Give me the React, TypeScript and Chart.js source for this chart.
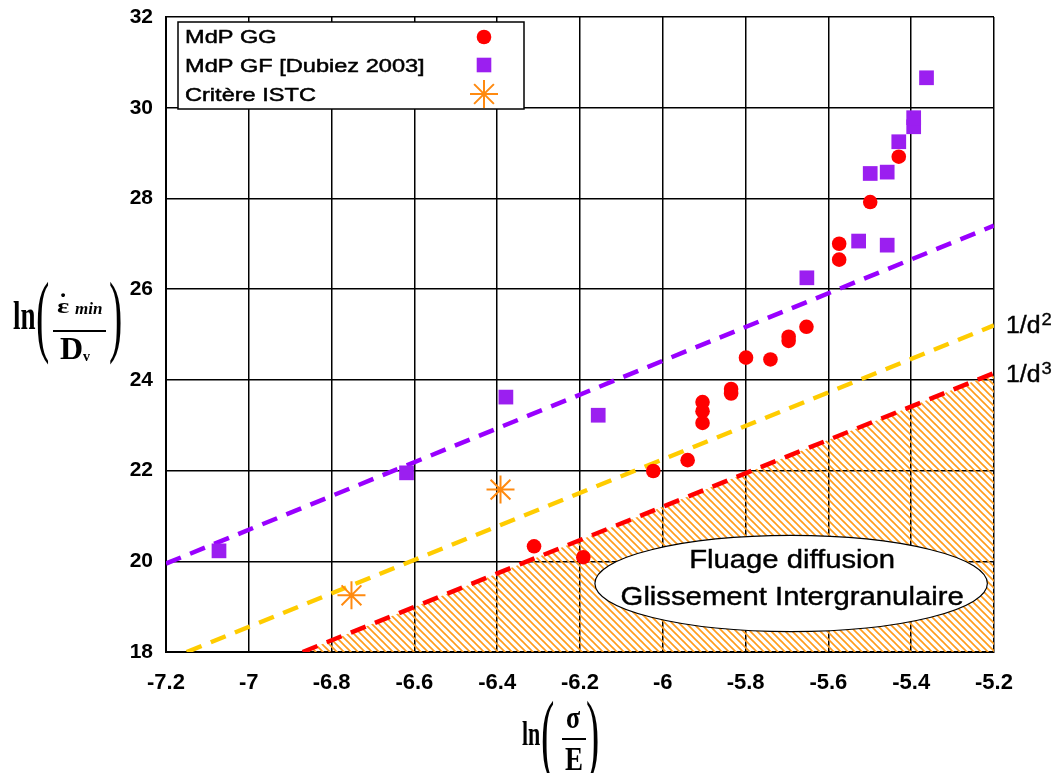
import React, { useEffect, useRef } from 'react';
import { Chart, registerables } from 'chart.js';

Chart.register(...registerables);

// ---- Data ----
const ggX = [-6.311, -6.192, -6.023, -5.940, -5.904, -5.904, -5.904, -5.835, -5.835, -5.799, -5.740, -5.696, -5.696, -5.653, -5.574, -5.574, -5.499, -5.430];
const ggY = [20.33, 20.09, 21.99, 22.23, 23.05, 23.31, 23.51, 23.70, 23.80, 24.49, 24.45, 24.86, 24.95, 25.17, 26.65, 27.00, 27.92, 28.92];

const gfX = [-7.072, -6.619, -6.379, -6.156, -5.652, -5.527, -5.458, -5.499, -5.458, -5.430, -5.394, -5.394, -5.363];
const gfY = [20.23, 21.95, 23.62, 23.22, 26.25, 27.06, 26.97, 28.55, 28.58, 29.25, 29.58, 29.78, 30.66];

const istcX = [-6.392, -6.752];
const istcY = [21.58, 19.25];

const purpleLineX = [-7.2, -5.2];
const purpleLineY = [19.95, 27.4];
const yellowLineX = [-7.15, -5.2];
const yellowLineY = [18, 25.2];
const redLineX = [-6.87, -5.2];
const redLineY = [18, 24.15];

const xTickValues = [-7.2, -7, -6.8, -6.6, -6.4, -6.2, -6, -5.8, -5.6, -5.4, -5.2];
const xTickLabels = ['-7.2', '-7', '-6.8', '-6.6', '-6.4', '-6.2', '-6', '-5.8', '-5.6', '-5.4', '-5.2'];
const yTickValues = [18, 20, 22, 24, 26, 28, 30, 32];
const yTickLabels = ['18', '20', '22', '24', '26', '28', '30', '32'];

const legendLabels = ['MdP GG', 'MdP GF [Dubiez 2003]', 'Critère ISTC'];
const regionLabels = ['Fluage diffusion', 'Glissement Intergranulaire'];
const lineLabels = ['1/d', '2', '3'];

// ---- Styles ----
const RED = '#ff0000';
const PURPLE_PT = '#9b1ff0';
const PURPLE_LINE = '#9900ff';
const YELLOW = '#ffcc00';
const ORANGE = '#ff8a10';
const HATCH = '#ff9d1e';

const zip = (xs: number[], ys: number[]) => xs.map((x, i) => ({ x, y: ys[i] }));

function txt(ctx: CanvasRenderingContext2D, s: string, x: number, y: number, font: string, align: CanvasTextAlign = 'left', sx = 1, sy = 1, heavy = 0) {
  ctx.save();
  ctx.translate(x, y);
  ctx.scale(sx, sy);
  ctx.font = font;
  ctx.textAlign = align;
  ctx.textBaseline = 'alphabetic';
  ctx.fillStyle = '#000';
  ctx.fillText(s, 0, 0);
  if (heavy > 0) {
    ctx.strokeStyle = '#000';
    ctx.lineWidth = heavy;
    ctx.strokeText(s, 0, 0);
  }
  ctx.restore();
}

function makeHatch(): CanvasPattern | string {
  const s = 7;
  const c = document.createElement('canvas');
  c.width = s;
  c.height = s;
  const g = c.getContext('2d');
  if (!g) return HATCH;
  g.strokeStyle = HATCH;
  g.lineWidth = 1.7;
  for (const k of [-s, 0, s]) {
    g.beginPath();
    g.moveTo(-1, k - 1);
    g.lineTo(s + 1, k + s + 1);
    g.stroke();
  }
  return g.createPattern(c, 'repeat') || HATCH;
}

const overlayPlugin = {
  id: 'overlay',
  afterDatasetsDraw(chart: any) {
    const { ctx, scales } = chart;
    const xs = scales.x, ys = scales.y;
    // ellipse annotation
    const ecx = -5.69, ecy = 19.51, erx = 0.474, ery = 1.06;
    const cx = xs.getPixelForValue(ecx);
    const cy = ys.getPixelForValue(ecy);
    const rx = xs.getPixelForValue(ecx + erx) - cx;
    const ry = cy - ys.getPixelForValue(ecy + ery);
    ctx.save();
    ctx.beginPath();
    ctx.ellipse(cx, cy, rx, ry, 0, 0, Math.PI * 2);
    ctx.fillStyle = '#ffffff';
    ctx.fill();
    ctx.lineWidth = 1.2;
    ctx.strokeStyle = '#000';
    ctx.stroke();
    ctx.restore();
    txt(ctx, regionLabels[0], cx + 1, cy - 16, '25px "Liberation Sans"', 'center', 1.17, 1, 0.4);
    txt(ctx, regionLabels[1], cx + 1, cy + 21, '25px "Liberation Sans"', 'center', 1.17, 1, 0.4);

    // 1/d labels at the line ends
    const area = chart.chartArea;
    const yy = ys.getPixelForValue(yellowLineY[1]) + 8;
    const yr = ys.getPixelForValue(redLineY[1]) + 9;
    const lx = area.right + 12;
    ctx.save();
    ctx.font = '23px "Liberation Sans"';
    const w = ctx.measureText(lineLabels[0]).width * 1.08;
    ctx.restore();
    txt(ctx, lineLabels[0], lx, yy, '23px "Liberation Sans"', 'left', 1.08, 1, 0.4);
    txt(ctx, lineLabels[1], lx + w + 1, yy - 8, '16px "Liberation Sans"', 'left', 1.15, 1, 0.3);
    txt(ctx, lineLabels[0], lx, yr, '23px "Liberation Sans"', 'left', 1.08, 1, 0.4);
    txt(ctx, lineLabels[2], lx + w + 1, yr - 8, '16px "Liberation Sans"', 'left', 1.15, 1, 0.3);
  },
  afterDraw(chart: any) {
    const { ctx } = chart;
    // ---- Legend ----
    ctx.save();
    ctx.fillStyle = '#fff';
    ctx.fillRect(178, 22, 346, 87);
    ctx.lineWidth = 1.5;
    ctx.strokeStyle = '#000';
    ctx.strokeRect(178, 22, 346, 87);
    ctx.restore();
    const lf = '19px "Liberation Sans"';
    txt(ctx, legendLabels[0], 185, 43, lf, 'left', 1.24, 1, 0.5);
    txt(ctx, legendLabels[1], 185, 72, lf, 'left', 1.24, 1, 0.5);
    txt(ctx, legendLabels[2], 185, 101, lf, 'left', 1.24, 1, 0.5);
    const mx = 484;
    ctx.save();
    ctx.fillStyle = RED;
    ctx.beginPath();
    ctx.arc(mx, 37, 7.3, 0, Math.PI * 2);
    ctx.fill();
    ctx.fillStyle = PURPLE_PT;
    ctx.fillRect(mx - 7.3, 65 - 7.3, 14.6, 14.6);
    ctx.strokeStyle = ORANGE;
    ctx.lineWidth = 2;
    ctx.beginPath();
    const r = 14;
    for (let k = 0; k < 4; k++) {
      const a = (k * Math.PI) / 4;
      ctx.moveTo(mx - Math.cos(a) * r, 94 - Math.sin(a) * r);
      ctx.lineTo(mx + Math.cos(a) * r, 94 + Math.sin(a) * r);
    }
    ctx.stroke();
    ctx.restore();

    // ---- Y axis title: ln( ε̇min / Dv ) ----
    txt(ctx, 'ln', 13, 329, 'bold 27px "Liberation Serif"', 'left', 1, 1.5);
    txt(ctx, '(', 36, 345, '40px "Liberation Serif"', 'left', 1, 2.3);
    txt(ctx, 'ε', 63, 313, 'bold 22px "Liberation Serif"', 'center', 1.3, 1);
    txt(ctx, '˙', 63, 311, 'bold 26px "Liberation Serif"', 'center', 1, 1);
    txt(ctx, 'min', 75, 314, 'italic bold 17px "Liberation Serif"', 'left', 1, 1);
    ctx.save();
    ctx.fillStyle = '#000';
    ctx.fillRect(53, 330, 53, 2);
    ctx.restore();
    txt(ctx, 'D', 60, 359, 'bold 32px "Liberation Serif"', 'left', 1, 1);
    txt(ctx, 'v', 83, 361, 'bold 14px "Liberation Serif"', 'left', 1, 1);
    txt(ctx, ')', 109, 345, '40px "Liberation Serif"', 'left', 1, 2.3);

    // ---- X axis title: ln( σ / E ) ----
    txt(ctx, 'ln', 522, 745, 'bold 22px "Liberation Serif"', 'left', 1, 1.5);
    txt(ctx, '(', 541, 764, '40px "Liberation Serif"', 'left', 1, 2.3);
    txt(ctx, 'σ', 573, 728, 'bold 26px "Liberation Serif"', 'center', 1, 1.2);
    ctx.save();
    ctx.fillStyle = '#000';
    ctx.fillRect(562, 738, 24, 2);
    ctx.restore();
    txt(ctx, 'E', 574, 770, 'bold 27px "Liberation Serif"', 'center', 1, 1.22);
    txt(ctx, ')', 586, 764, '40px "Liberation Serif"', 'left', 1, 2.3);
  },
};

export default function App() {
  const canvasRef = useRef<HTMLCanvasElement | null>(null);

  useEffect(() => {
    document.body.style.margin = '0';
    document.body.style.overflow = 'hidden';
    const canvas = canvasRef.current;
    if (!canvas) return;
    const hatch = makeHatch();

    const lineDs = (xs: number[], ys: number[], color: string, extra: any = {}) => ({
      type: 'line',
      data: zip(xs, ys),
      showLine: true,
      borderColor: color,
      borderWidth: 4.5,
      borderDash: [16, 10],
      borderCapStyle: 'butt',
      pointRadius: 0,
      fill: false,
      tension: 0,
      ...extra,
    });

    const chart = new Chart(canvas, {
      type: 'scatter',
      data: {
        datasets: [
          {
            label: legendLabels[0],
            data: zip(ggX, ggY),
            pointStyle: 'circle',
            pointRadius: 7.3,
            backgroundColor: RED,
            borderColor: RED,
            borderWidth: 0,
          },
          {
            label: legendLabels[1],
            data: zip(gfX, gfY),
            pointStyle: 'rect',
            pointRadius: 10.4,
            backgroundColor: PURPLE_PT,
            borderColor: PURPLE_PT,
            borderWidth: 0,
          },
          {
            label: legendLabels[2],
            data: zip(istcX, istcY),
            pointStyle: 'star',
            pointRadius: 14,
            borderColor: ORANGE,
            backgroundColor: ORANGE,
            borderWidth: 2,
          },
          lineDs(purpleLineX, purpleLineY, PURPLE_LINE),
          lineDs(yellowLineX, yellowLineY, YELLOW),
          lineDs(redLineX, redLineY, RED, { fill: 'start', backgroundColor: hatch }),
        ] as any,
      },
      options: {
        responsive: false,
        animation: false,
        events: [],
        layout: { padding: { top: 17, right: 63, left: 0, bottom: 0 } },
        plugins: {
          legend: { display: false },
          tooltip: { enabled: false },
        },
        scales: {
          x: {
            type: 'linear',
            min: -7.2,
            max: -5.2,
            afterBuildTicks: (scale: any) => {
              scale.ticks = xTickValues.map((v) => ({ value: v }));
            },
            afterFit: (scale: any) => {
              scale.height = 121;
              scale.paddingLeft = 0;
              scale.paddingRight = 0;
            },
            ticks: {
              autoSkip: false,
              maxRotation: 0,
              padding: 18,
              color: '#000',
              font: { family: '"Liberation Sans"', size: 22, weight: 'bold' },
              callback: (_v: any, i: number) => xTickLabels[i],
            },
            grid: { color: '#000', lineWidth: 1.5, drawTicks: false },
            border: { color: '#000', width: 2 },
          },
          y: {
            type: 'linear',
            min: 18,
            max: 32,
            afterBuildTicks: (scale: any) => {
              scale.ticks = yTickValues.map((v) => ({ value: v }));
            },
            afterFit: (scale: any) => {
              scale.width = 166;
              scale.paddingTop = 0;
              scale.paddingBottom = 0;
            },
            ticks: {
              autoSkip: false,
              padding: 13,
              color: '#000',
              font: { family: '"Liberation Sans"', size: 21, weight: 'bold' },
              callback: (_v: any, i: number) => yTickLabels[i],
            },
            grid: { color: '#000', lineWidth: 1.5, drawTicks: false },
            border: { color: '#000', width: 2 },
          },
        },
      } as any,
      plugins: [overlayPlugin],
    });

    return () => chart.destroy();
  }, []);

  return (
    <canvas ref={canvasRef} width={1057} height={773} style={{ display: 'block', width: '1057px', height: '773px' }} />
  );
}
